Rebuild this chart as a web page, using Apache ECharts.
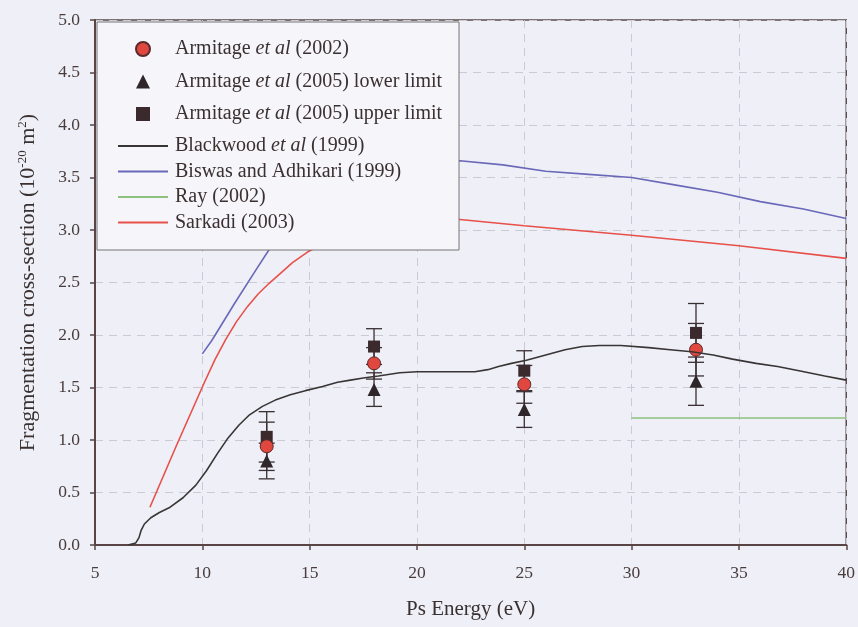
<!DOCTYPE html>
<html>
<head>
<meta charset="utf-8">
<script src="https://cdn.jsdelivr.net/npm/echarts@6/dist/echarts.min.js"></script>
<style>
  html, body { margin: 0; padding: 0; background: #eeeff7; }
  #chart { width: 858px; height: 627px; }
</style>
</head>
<body>
<div id="chart"></div>
<script>
// measured points (Armitage), x = Ps energy in eV
const energyPts = [13, 18, 25, 33];
const armitage2002 = [0.94, 1.73, 1.53, 1.86];
const armitage2002Err = [0.23, 0.15, 0.18, 0.25];
const lower2005 = [0.80, 1.48, 1.29, 1.56];
const lower2005Err = [0.17, 0.16, 0.17, 0.23];
const upper2005 = [1.03, 1.89, 1.66, 2.02];
const upper2005Err = [0.24, 0.17, 0.19, 0.28];

// theory curves [energy, cross-section]
const blackwood = [[6.55,0],[6.9,0.02],[7.05,0.07],[7.15,0.14],[7.3,0.2],[7.6,0.26],[8.0,0.31],[8.5,0.36],
  [9.1,0.45],[9.7,0.57],[10.2,0.71],[10.7,0.87],[11.2,1.02],[11.7,1.14],[12.2,1.24],[12.8,1.32],
  [13.4,1.38],[14.1,1.43],[14.8,1.47],[15.6,1.51],[16.3,1.55],[16.9,1.57],[17.5,1.59],[18.2,1.61],
  [19.2,1.64],[20,1.65],[21,1.65],[22.7,1.65],[23.3,1.67],[23.8,1.7],[24.4,1.73],[25.1,1.76],[26,1.81],
  [26.9,1.86],[27.7,1.89],[28.5,1.9],[29.5,1.9],[30.8,1.88],[31.8,1.86],[32.8,1.84],[33.8,1.81],
  [34.7,1.77],[35.8,1.73],[36.8,1.7],[37.8,1.66],[39,1.61],[40,1.57]];
const biswas = [[10,1.82],[10.45,1.95],[11.5,2.3],[12.5,2.62],[13.1,2.81],[14,3.05],[15,3.25],[16,3.4],
  [17,3.5],[18,3.57],[19,3.62],[20,3.65],[22,3.66],[24,3.62],[26,3.56],[28,3.53],[30,3.5],[32,3.43],
  [34,3.36],[36,3.27],[38,3.2],[40,3.11]];
const ray = [[30,1.21],[40,1.21]];
const sarkadi = [[7.56,0.36],[8.8,0.95],[10.1,1.55],[10.6,1.77],[11.1,1.96],[11.6,2.13],[12.1,2.27],
  [12.6,2.39],[13.1,2.49],[13.6,2.58],[14.2,2.69],[14.9,2.79],[16,2.91],[17,2.99],[18,3.05],[20,3.1],
  [22,3.1],[25,3.04],[30,2.95],[35,2.85],[40,2.73]];

const serif = '"Liberation Serif", "DejaVu Serif", serif';
const inkColor = '#3a3030';

function pairs(vals) {
  return energyPts.map(function (x, i) { return [x, vals[i]]; });
}

function errorBars(name, vals, errs) {
  return {
    type: 'custom',
    name: name + ' err',
    data: energyPts.map(function (x, i) { return [x, vals[i] - errs[i], vals[i] + errs[i]]; }),
    encode: { x: 0, y: [1, 2] },
    renderItem: function (params, api) {
      var x = api.value(0);
      var lo = api.coord([x, api.value(1)]);
      var hi = api.coord([x, api.value(2)]);
      var w = 8;
      var st = { stroke: '#3a2f33', lineWidth: 1.3 };
      return {
        type: 'group',
        children: [
          { type: 'line', shape: { x1: lo[0], y1: lo[1], x2: hi[0], y2: hi[1] }, style: st },
          { type: 'line', shape: { x1: lo[0] - w, y1: lo[1], x2: lo[0] + w, y2: lo[1] }, style: st },
          { type: 'line', shape: { x1: hi[0] - w, y1: hi[1], x2: hi[0] + w, y2: hi[1] }, style: st }
        ]
      };
    },
    silent: true
  };
}

const legendNames = {
  'Armitage 2002': 'Armitage {it|et al} (2002)',
  'Armitage 2005 lower': 'Armitage {it|et al} (2005) lower limit',
  'Armitage 2005 upper': 'Armitage {it|et al} (2005) upper limit',
  'Blackwood 1999': 'Blackwood {it|et al} (1999)',
  'Biswas 1999': 'Biswas and Adhikari (1999)',
  'Ray 2002': 'Ray (2002)',
  'Sarkadi 2003': 'Sarkadi (2003)'
};

function legendText(padLeft) {
  return {
    fontFamily: serif, fontSize: 20, color: inkColor, lineHeight: 18,
    padding: [0, 0, 0, padLeft],
    rich: { it: { fontFamily: serif, fontSize: 20, fontStyle: 'italic', color: inkColor, lineHeight: 18 } }
  };
}

var chart = echarts.init(document.getElementById('chart'));

var option = {
  backgroundColor: '#eeeff7',
  animation: false,
  grid: {
    left: 95, right: 10, top: 20, bottom: 82,
    show: true, borderColor: '#5a4a4a', borderWidth: 1.5, backgroundColor: 'transparent'
  },
  graphic: {
    elements: [{
      type: 'rect', z: 20,
      shape: { x: 97, y: 22, width: 362, height: 228 },
      style: { fill: '#f5f5fa', stroke: '#777', lineWidth: 1 }
    }]
  },
  legend: [{
    z: 40,
    orient: 'vertical', left: 130, top: 34,
    itemWidth: 14, itemHeight: 14, itemGap: 12.5,
    data: [
      { name: 'Armitage 2002', icon: 'circle' },
      { name: 'Armitage 2005 lower', icon: 'triangle' },
      { name: 'Armitage 2005 upper', icon: 'rect' }
    ],
    formatter: function (n) { return legendNames[n]; },
    textStyle: legendText(20)
  }, {
    z: 40,
    orient: 'vertical', left: 113, top: 131,
    itemWidth: 50, itemHeight: 2, itemGap: 5.5,
    data: [
      { name: 'Blackwood 1999', icon: 'rect' },
      { name: 'Biswas 1999', icon: 'rect' },
      { name: 'Ray 2002', icon: 'rect' },
      { name: 'Sarkadi 2003', icon: 'rect' }
    ],
    formatter: function (n) { return legendNames[n]; },
    textStyle: legendText(2)
  }],
  xAxis: {
    type: 'value', min: 5, max: 40, interval: 5,
    name: 'Ps Energy (eV)', nameLocation: 'middle', nameGap: 54,
    nameTextStyle: { fontFamily: serif, fontSize: 21, color: inkColor },
    axisLine: { lineStyle: { color: '#5a4545', width: 2 } },
    axisTick: { length: 5, lineStyle: { color: '#5a4545', width: 1.5 } },
    axisLabel: { fontFamily: serif, fontSize: 17.5, color: '#4a3c3c', margin: 19 },
    splitLine: { show: true, lineStyle: { color: '#c9cad4', type: [8, 6], width: 1 } }
  },
  yAxis: {
    type: 'value', min: 0, max: 5, interval: 0.5,
    name: 'Fragmentation cross-section (10{sup|-20} m{sup|2})',
    nameLocation: 'middle', nameGap: 55,
    nameTextStyle: {
      fontFamily: serif, fontSize: 22, color: inkColor,
      rich: { sup: { fontFamily: serif, fontSize: 13, color: inkColor, verticalAlign: 'top', lineHeight: 24 } }
    },
    axisLine: { show: true, lineStyle: { color: '#5a4545', width: 2 } },
    axisTick: { show: true, length: 5, lineStyle: { color: '#5a4545', width: 1.5 } },
    axisLabel: {
      fontFamily: serif, fontSize: 17.5, color: '#4a3c3c', margin: 15,
      formatter: function (v) { return v.toFixed(1); }
    },
    splitLine: { show: true, lineStyle: { color: '#c9cad4', type: [8, 6], width: 1 } }
  },
  series: [
    { name: 'Blackwood 1999', type: 'line', data: blackwood, symbol: 'none',
      lineStyle: { color: '#3a3535', width: 1.6 }, itemStyle: { color: '#3a3535' } },
    { name: 'Biswas 1999', type: 'line', data: biswas, symbol: 'none',
      lineStyle: { color: '#6a68b8', width: 1.6 }, itemStyle: { color: '#6a68b8' } },
    { name: 'Ray 2002', type: 'line', data: ray, symbol: 'none',
      lineStyle: { color: '#8cc07c', width: 1.6 }, itemStyle: { color: '#8cc07c' } },
    { name: 'Sarkadi 2003', type: 'line', data: sarkadi, symbol: 'none',
      lineStyle: { color: '#e8504a', width: 1.6 }, itemStyle: { color: '#e8504a' } },
    errorBars('Armitage 2005 upper', upper2005, upper2005Err),
    errorBars('Armitage 2002', armitage2002, armitage2002Err),
    errorBars('Armitage 2005 lower', lower2005, lower2005Err),
    { name: 'Armitage 2005 upper', type: 'scatter', data: pairs(upper2005), symbol: 'rect', symbolSize: 12,
      itemStyle: { color: '#3a2a2e', opacity: 1 } },
    { name: 'Armitage 2005 lower', type: 'scatter', data: pairs(lower2005), symbol: 'triangle', symbolSize: 13,
      itemStyle: { color: '#2e2628', opacity: 1 } },
    { name: 'Armitage 2002', type: 'scatter', data: pairs(armitage2002), symbol: 'circle', symbolSize: 13,
      itemStyle: { color: '#e0473e', borderColor: '#5a2a2a', borderWidth: 1, opacity: 1 } }
  ]
};

chart.setOption(option);
</script>
</body>
</html>
